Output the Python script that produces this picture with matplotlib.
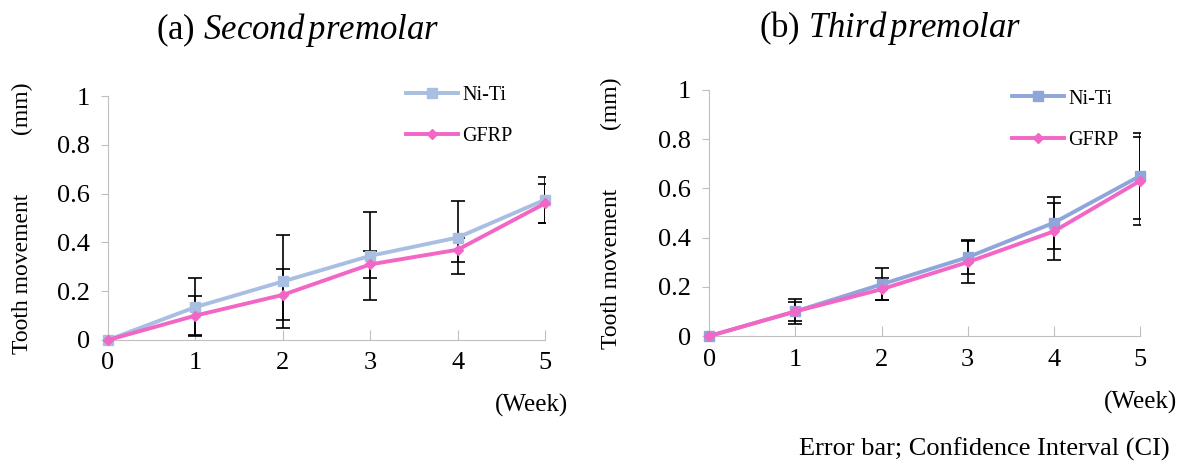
import matplotlib
matplotlib.use('Agg')
import matplotlib.pyplot as plt

plt.rcParams['font.family'] = ['Liberation Serif', 'DejaVu Serif']
plt.rcParams['mathtext.fontset'] = 'custom'
plt.rcParams['mathtext.it'] = 'Liberation Serif:italic'
plt.rcParams['mathtext.rm'] = 'Liberation Serif'

# Dados
semanas = [0, 1, 2, 3, 4, 5]

# (a) segundo pré-molar
niti_a = [0, 0.135, 0.24, 0.345, 0.42, 0.575]
niti_a_err = [0, 0.12, 0.19, 0.18, 0.15, 0.095]
gfrp_a = [0, 0.10, 0.185, 0.31, 0.37, 0.56]
gfrp_a_err = [0, 0.08, 0.105, 0.055, 0.05, 0.08]

# (b) terceiro pré-molar
niti_b = [0, 0.10, 0.21, 0.32, 0.46, 0.65]
niti_b_err = [0, 0.05, 0.065, 0.07, 0.105, 0.175]
gfrp_b = [0, 0.10, 0.19, 0.30, 0.425, 0.63]
gfrp_b_err = [0, 0.04, 0.045, 0.085, 0.115, 0.18]

titulos = [r'(a) $\it{Second\/premolar}$', r'(b) $\it{Third\/premolar}$']
cor_niti = ['#A9BFE2', '#8FA6DA']
cor_gfrp = '#F266C6'

fig = plt.figure(figsize=(11.9, 4.7), dpi=100)
ax1 = fig.add_axes([0.0908, 0.2766, 0.3672, 0.519])
ax2 = fig.add_axes([0.596, 0.285, 0.362, 0.524])

dados = [(ax1, niti_a, niti_a_err, gfrp_a, gfrp_a_err),
         (ax2, niti_b, niti_b_err, gfrp_b, gfrp_b_err)]

# posições do título e da legenda (em coordenadas da figura / eixos)
titulo_xy = [(0.250, 0.936), (0.748, 0.940)]
legenda_ancora = [(0.64, 1.115), (0.66, 1.075)]
ylabel_x = [0.019, 0.514]
semana_x = [0.97, 1.0]

for i, (ax, nt, nte, gf, gfe) in enumerate(dados):
    # barras de erro
    ax.errorbar(semanas, nt, yerr=nte, fmt='none', ecolor='black',
                elinewidth=1.2, capsize=5, capthick=1.2, zorder=2)
    ax.errorbar(semanas, gf, yerr=gfe, fmt='none', ecolor='black',
                elinewidth=1.2, capsize=5, capthick=1.2, zorder=2)
    ax.plot(semanas, nt, marker='s', color=cor_niti[i], linewidth=2.8,
            markersize=7, label='Ni-Ti', zorder=3, clip_on=False)
    ax.plot(semanas, gf, marker='D', color=cor_gfrp, linewidth=2.8,
            markersize=5.5, label='GFRP', zorder=4, clip_on=False)

    ax.set_xlim(0, 5)
    ax.set_ylim(0, 1)
    ax.set_xticks(semanas)
    ax.set_yticks([0, 0.2, 0.4, 0.6, 0.8, 1])
    ax.set_yticklabels(['0', '0.2', '0.4', '0.6', '0.8', '1'])
    ax.spines['top'].set_visible(False)
    ax.spines['right'].set_visible(False)
    ax.spines['left'].set_color('#BFBFBF')
    ax.spines['bottom'].set_color('#BFBFBF')
    ax.tick_params(axis='x', direction='in', length=7, color='#BFBFBF',
                   labelsize=19, pad=9)
    ax.tick_params(axis='y', direction='out', length=5, color='#BFBFBF',
                   labelsize=19, pad=8)
    fig.text(titulo_xy[i][0], titulo_xy[i][1], titulos[i], fontsize=25,
             ha='center', va='center')
    fig.text(ylabel_x[i], (ax.get_position().y0 + ax.get_position().y1) / 2,
             'Tooth movement          (mm)', fontsize=17, rotation=90,
             ha='center', va='center')
    ax.text(semana_x[i], -0.27, '(Week)', transform=ax.transAxes,
            ha='center', va='center', fontsize=18)
    ax.legend(loc='upper left', bbox_to_anchor=legenda_ancora[i],
              frameon=False, fontsize=14.5, labelspacing=1.1,
              handlelength=2.6, handletextpad=0.2)

fig.text(0.983, 0.045, 'Error bar; Confidence Interval (CI)', ha='right',
         va='center', fontsize=19)

fig.savefig('out.png', dpi=100)
